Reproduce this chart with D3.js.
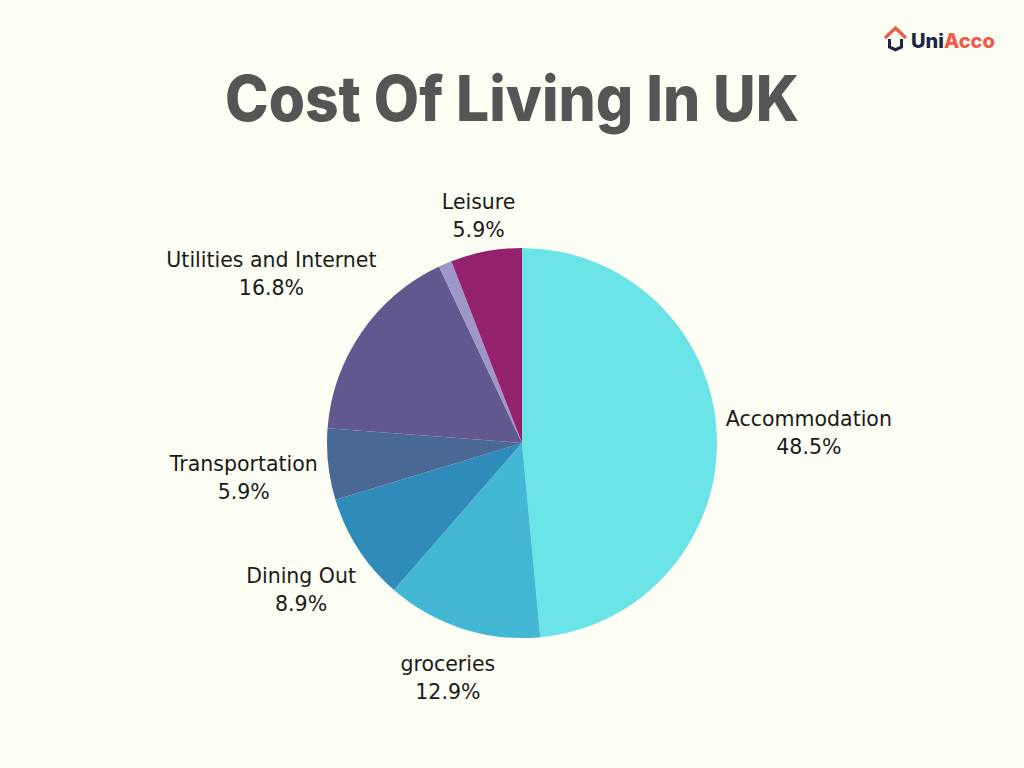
<!DOCTYPE html>
<html><head><meta charset="utf-8">
<script src="https://cdn.jsdelivr.net/npm/d3@7"></script>
<style>html,body{margin:0;padding:0;background:#FDFEF4;}svg{display:block;}</style>
</head><body>
<svg id="c" width="1024" height="768"></svg>
<script>
const categories = ["Accommodation","groceries","Dining Out","Transportation","Utilities and Internet","Other","Leisure"];
const values = [48.5, 12.9, 8.9, 5.9, 16.8, 1.1, 5.9];
const showLabel = [true, true, true, true, true, false, true];
const colors = ["#6BE4E8","#43B8D4","#2E8BBA","#4A6895","#625890","#9E97C9","#93216E"];
const title = "Cost Of Living In UK";

const svg = d3.select("#c");
const W = 1024, H = 768;
svg.append("rect").attr("width", W).attr("height", H).attr("fill", "#FDFEF4");

const font = "'DejaVu Sans', 'Open Sans', sans-serif";

// Title
svg.append("text").attr("x", 512).attr("y", 121).attr("text-anchor", "middle")
  .attr("font-family", "Inter, 'Open Sans', sans-serif").attr("font-weight", 800)
  .attr("font-size", 63).attr("fill", "#555555")
  .attr("textLength", 574).attr("lengthAdjust", "spacingAndGlyphs")
  .text(title);

// Logo
const logo = svg.append("g").attr("transform", "translate(884,26)");
logo.append("path").attr("d", "M1,12 L11.5,2 L22,12").attr("fill", "none")
  .attr("stroke", "#F05A4A").attr("stroke-width", 3.2).attr("stroke-linejoin", "miter");
logo.append("path").attr("d", "M4,13 L4,22 L11.5,25.5 L19,22 L19,13 L16,13 L16,20 L11.5,22 L7,20 L7,13 Z")
  .attr("fill", "#1C2547");
const lt = svg.append("text").attr("x", 911).attr("y", 48)
  .attr("font-family", "Inter, 'Open Sans', sans-serif").attr("font-weight", 800).attr("font-size", 20);
lt.append("tspan").attr("fill", "#1C2547").text("Uni");
lt.append("tspan").attr("fill", "#F05A4A").text("Acco");

// Pie
const cx = 522, cy = 443, r = 195;
const g = svg.append("g").attr("transform", `translate(${cx},${cy})`);
const pie = d3.pie().sort(null).value(d => d.v);
const data = categories.map((c, i) => ({name: c, v: values[i], color: colors[i], show: showLabel[i]}));
const arcs = pie(data);
const arc = d3.arc().innerRadius(0).outerRadius(r);
g.selectAll("path.slice").data(arcs).join("path").attr("class", "slice")
  .attr("d", arc).attr("fill", d => d.data.color);

// Labels
const R = 203, lineH = 28, yShift = 4;
arcs.filter(d => d.data.show).forEach(d => {
  const a = (d.startAngle + d.endAngle) / 2;
  const dx = Math.sin(a), dy = -Math.cos(a);
  const t = g.append("text").attr("text-anchor", "middle")
    .attr("font-family", font).attr("font-size", 20.5).attr("fill", "#1a1a1a");
  t.append("tspan").attr("x", 0).attr("dy", 0).text(d.data.name);
  t.append("tspan").attr("x", 0).attr("dy", lineH).text(d.data.v.toFixed(1) + "%");
  const bb = t.node().getBBox();
  const hw = bb.width / 2, hh = bb.height / 2;
  const dist = R + hw * Math.abs(dx) + hh * Math.abs(dy);
  const x = dx * dist, y = dy * dist + yShift;
  const bcy = bb.y + bb.height / 2;
  t.attr("transform", `translate(${x},${y - bcy})`);
});
</script>
</body></html>
